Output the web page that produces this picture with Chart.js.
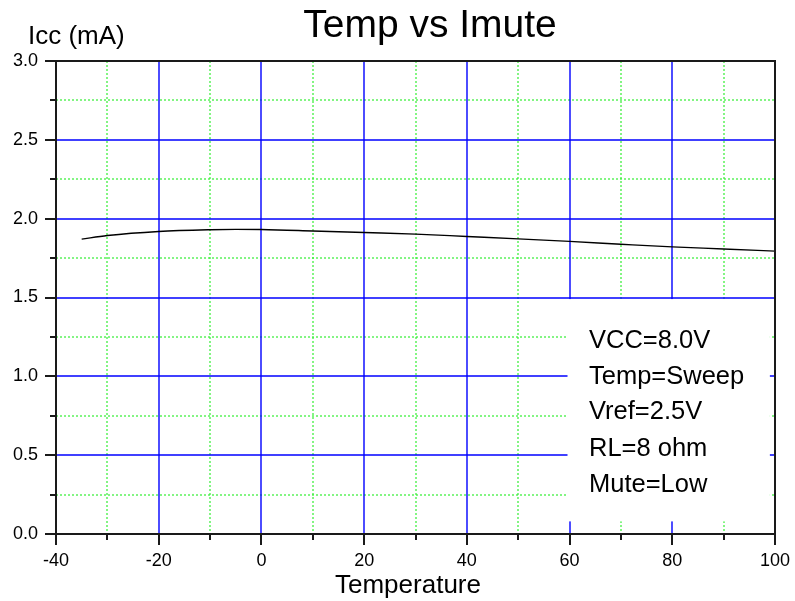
<!DOCTYPE html>
<html>
<head>
<meta charset="utf-8">
<script src="https://cdn.jsdelivr.net/npm/chart.js@4.4.1/dist/chart.umd.min.js"></script>
<style>
  html, body { margin: 0; padding: 0; background: #fff; }
  #wrap { width: 795px; height: 601px; position: relative; }
</style>
</head>
<body>
<div id="wrap"><canvas id="c"></canvas></div>
<script>
// ---- data ----
const temps = [-35, -30, -20, -10, -5, 0, 10, 20, 30, 40, 50, 60, 70, 80, 90, 100];
const icc   = [1.870, 1.893, 1.919, 1.930, 1.932, 1.931, 1.922, 1.912, 1.902, 1.887, 1.872, 1.856, 1.838, 1.821, 1.808, 1.794];
const chartTitle = 'Temp vs Imute';
const yUnitLabel = 'Icc (mA)';
const xAxisLabel = 'Temperature';
const noteLines = ['VCC=8.0V', 'Temp=Sweep', 'Vref=2.5V', 'RL=8 ohm', 'Mute=Low'];
const xMin = -40, xMax = 100, xMinorStep = 10, xMajorStep = 20;
const yMin = 0, yMax = 3, yMinorStep = 0.25, yMajorStep = 0.5;

const FONT = '"Liberation Sans", Arial, sans-serif';
const BLUE = '#0000ff';
const GREEN = '#33ee33';

function isMajor(v, step) {
  const r = v / step;
  return Math.abs(r - Math.round(r)) < 1e-6;
}

const decorPlugin = {
  id: 'decor',
  beforeDatasetsDraw(chart) {
    const ctx = chart.ctx;
    const a = chart.chartArea;
    const xs = chart.scales.x, ys = chart.scales.y;
    ctx.save();
    // minor grid (green dotted)
    ctx.lineWidth = 1.2;
    ctx.strokeStyle = GREEN;
    ctx.setLineDash([2, 2]);
    xs.ticks.forEach(t => {
      if (isMajor(t.value, xMajorStep)) return;
      const x = Math.round(xs.getPixelForValue(t.value));
      ctx.beginPath(); ctx.moveTo(x, a.top); ctx.lineTo(x, a.bottom); ctx.stroke();
    });
    ys.ticks.forEach(t => {
      if (isMajor(t.value, yMajorStep)) return;
      const y = Math.round(ys.getPixelForValue(t.value));
      ctx.beginPath(); ctx.moveTo(a.left, y); ctx.lineTo(a.right, y); ctx.stroke();
    });
    // major grid (blue solid)
    ctx.setLineDash([]);
    ctx.strokeStyle = BLUE;
    ctx.lineWidth = 1.4;
    xs.ticks.forEach(t => {
      if (!isMajor(t.value, xMajorStep)) return;
      const x = Math.round(xs.getPixelForValue(t.value));
      ctx.beginPath(); ctx.moveTo(x, a.top); ctx.lineTo(x, a.bottom); ctx.stroke();
    });
    ys.ticks.forEach(t => {
      if (!isMajor(t.value, yMajorStep)) return;
      const y = Math.round(ys.getPixelForValue(t.value));
      ctx.beginPath(); ctx.moveTo(a.left, y); ctx.lineTo(a.right, y); ctx.stroke();
    });
    // annotation box (white, hides grid)
    const bx0 = xs.getPixelForValue(59.6), bx1 = xs.getPixelForValue(99.0);
    const by0 = ys.getPixelForValue(1.49), by1 = ys.getPixelForValue(0.08);
    ctx.fillStyle = '#ffffff';
    ctx.fillRect(bx0, by0, bx1 - bx0, by1 - by0);
    ctx.fillStyle = '#000';
    ctx.font = '25.5px ' + FONT;
    ctx.textAlign = 'left';
    ctx.textBaseline = 'alphabetic';
    const baseY = [347.7, 383.5, 419.3, 455.5, 491.5];
    noteLines.forEach((t, i) => ctx.fillText(t, 589, baseY[i]));
    ctx.restore();
  },
  afterDraw(chart) {
    const ctx = chart.ctx;
    const a = chart.chartArea;
    const xs = chart.scales.x, ys = chart.scales.y;
    ctx.save();
    ctx.strokeStyle = '#1a1a1a';
    ctx.lineWidth = 2;
    // ticks
    ys.ticks.forEach(t => {
      const y = Math.round(ys.getPixelForValue(t.value));
      const len = isMajor(t.value, yMajorStep) ? 11 : 6;
      ctx.beginPath(); ctx.moveTo(a.left - len, y); ctx.lineTo(a.left, y); ctx.stroke();
    });
    xs.ticks.forEach(t => {
      const x = Math.round(xs.getPixelForValue(t.value));
      const len = isMajor(t.value, xMajorStep) ? 11 : 6;
      ctx.beginPath(); ctx.moveTo(x, a.bottom); ctx.lineTo(x, a.bottom + len); ctx.stroke();
    });
    // frame
    const L = Math.round(a.left), R = Math.round(a.right), T = Math.round(a.top), B = Math.round(a.bottom);
    ctx.beginPath();
    ctx.moveTo(L, T); ctx.lineTo(R, T); ctx.lineTo(R, B); ctx.lineTo(L, B); ctx.closePath();
    ctx.stroke();
    // texts
    ctx.fillStyle = '#000';
    ctx.textBaseline = 'alphabetic';
    ctx.font = '39px ' + FONT;
    ctx.textAlign = 'center';
    ctx.fillText(chartTitle, 430, 36.7);
    ctx.font = '26px ' + FONT;
    ctx.textAlign = 'left';
    ctx.fillText(yUnitLabel, 28, 44);
    ctx.fillText(xAxisLabel, 335, 593);
    ctx.restore();
  }
};

new Chart(document.getElementById('c'), {
  type: 'line',
  data: {
    datasets: [{
      data: temps.map((t, i) => ({ x: t, y: icc[i] })),
      borderColor: '#000',
      borderWidth: 1.4,
      pointRadius: 0,
      cubicInterpolationMode: 'monotone',
      fill: false
    }]
  },
  options: {
    responsive: true,
    maintainAspectRatio: false,
    animation: false,
    layout: { padding: { top: 61, right: 20, left: 0, bottom: 0 } },
    plugins: { legend: { display: false }, title: { display: false }, tooltip: { enabled: false } },
    scales: {
      x: {
        type: 'linear',
        min: xMin, max: xMax,
        afterFit(s) { s.height = 67; s.paddingLeft = 0; s.paddingRight = 0; },
        ticks: {
          stepSize: xMinorStep,
          autoSkip: false,
          maxRotation: 0,
          padding: 16,
          color: '#000',
          font: { family: FONT, size: 18 },
          callback: v => isMajor(v, xMajorStep) ? String(v) : ''
        },
        grid: { display: false, drawTicks: false, tickLength: 0 },
        border: { display: false }
      },
      y: {
        type: 'linear',
        min: yMin, max: yMax,
        afterFit(s) { s.width = 56; s.paddingTop = 0; s.paddingBottom = 0; },
        ticks: {
          stepSize: yMinorStep,
          autoSkip: false,
          padding: 18,
          color: '#000',
          font: { family: FONT, size: 18 },
          callback: v => isMajor(v, yMajorStep) ? v.toFixed(1) : ''
        },
        grid: { display: false, drawTicks: false, tickLength: 0 },
        border: { display: false }
      }
    }
  },
  plugins: [decorPlugin]
});
</script>
</body>
</html>
